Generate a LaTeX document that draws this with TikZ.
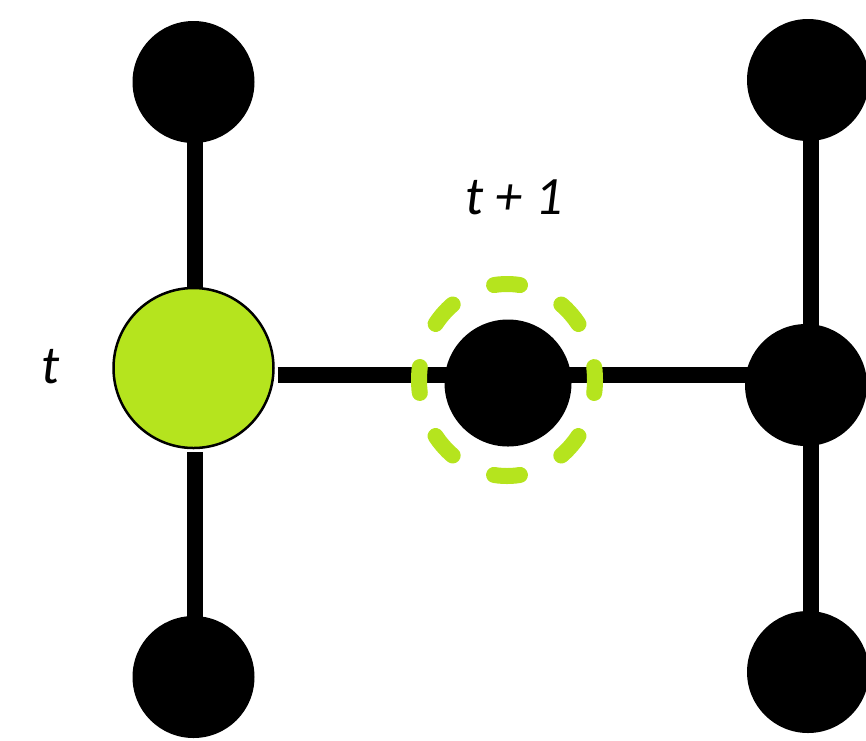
\documentclass[tikz,border=0pt]{standalone}
\usepackage{fontspec}
\setmainfont{Carlito}
\definecolor{lime}{RGB}{181,228,30}
\begin{document}
\begin{tikzpicture}[x=1pt,y=-1pt,
  dot/.style={circle,fill=black,inner sep=0pt,outer sep=0pt,minimum size=122pt},
  active/.style={circle,fill=lime,draw=black,line width=2.5pt,inner sep=0pt,outer sep=0pt,minimum size=160pt},
  link/.style={line width=16pt,black},
  ring/.style={lime,line width=16pt,line cap=round,dash pattern=on 26pt off 46.3pt,dash phase=13pt},
  lbl/.style={font=\fontsize{54}{60}\selectfont\itshape,inner sep=0pt,anchor=base}]
\useasboundingbox (0,0) rectangle (866,740);
% left column
\node[dot] (tl) at (193.5,82) {};
\node[active] (g) at (193.5,368) {};
\node[dot] (bl) at (193.5,677) {};
% middle vertex
\node[dot,minimum size=127pt] (m) at (508,383) {};
% right column
\node[dot] (tr) at (808,80) {};
\node[dot] (rm) at (806,385) {};
\node[dot] (br) at (808,672) {};
% line guides
\coordinate (vl) at (195,0);
\coordinate (vr) at (811,0);
\coordinate (hl) at (0,375);
% edges
\draw[link] (tl.center -| vl) -- (g.north -| vl);
\draw[link,shorten <=4pt] (g.south -| vl) -- (bl.center -| vl);
\draw[link,shorten <=4pt] (g.east |- hl) -- (rm.center |- hl);
\draw[link] (tr.center -| vr) -- (br.center -| vr);
% candidate marker round the middle vertex
\draw[ring] (m.center) ++(-1,-3) ellipse [x radius=88, y radius=96];
% labels
\node[lbl] (lt) at (51,383) {t};
\node[lbl] (lt1) at (514,214) {t + 1};
\end{tikzpicture}
\end{document}
